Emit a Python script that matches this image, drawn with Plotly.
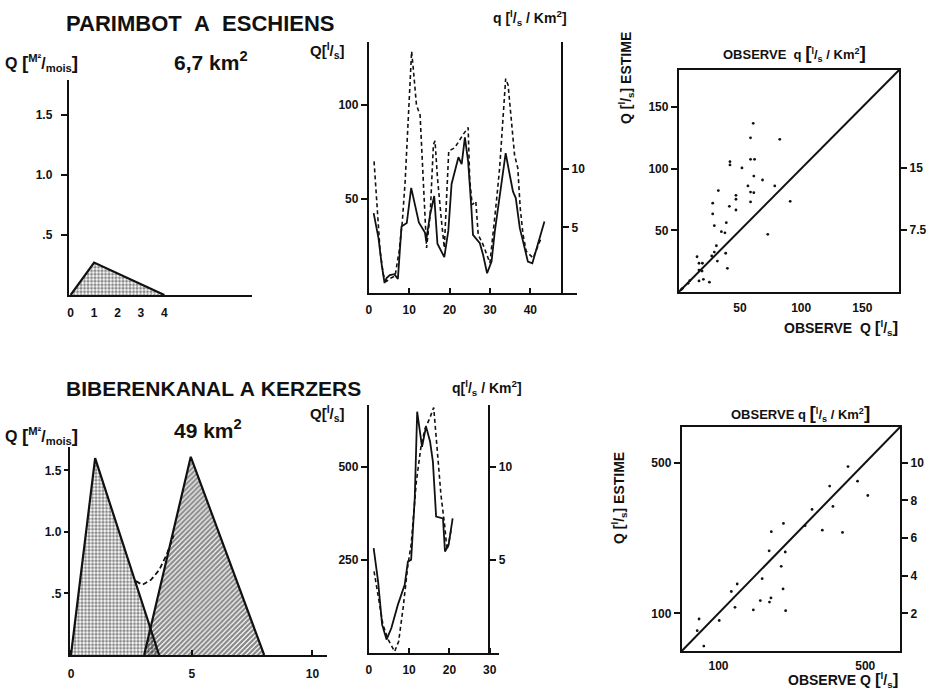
import plotly.graph_objects as go

W, H = 929, 694

# ---------------- data ----------------
# Parimbot à Eschiens (6,7 km²)
par_tri_x = [0, 1, 4]
par_tri_y = [0, 0.27, 0]

par_obs_t = [1.2, 2.4, 3.2, 3.9, 4.4, 5.2, 6.3, 7.2, 8.1, 9.4, 10.5, 11.4, 12.4, 13.9, 14.2,
             15.2, 16.2, 17.0, 18.0, 18.7, 19.7, 20.5, 22.2, 23.0, 23.8, 24.6, 25.4, 25.8,
             27.5, 28.3, 29.3, 30.4, 31.2, 32.0, 32.8, 33.9, 34.9, 35.7, 36.4, 37.4, 38.2,
             39.4, 40.5, 41.9, 43.5]
par_obs_Q = [42.5, 29.2, 15, 5.3, 8, 9.5, 10, 7.5, 35.4, 37.2, 55.9, 46.4, 37.5, 32.2, 27.8,
             41.9, 51.6, 26.2, 21.8, 19.1, 33.3, 58, 72.2, 68.6, 82.8, 70, 45.2, 30.9,
             26.5, 20.3, 10.5, 16.7, 32.6, 45, 59.4, 74.4, 62.9, 54, 50.5, 34.5, 27.5,
             16.7, 15.8, 25.6, 38]

par_est_t = [1.3, 2.0, 2.8, 3.6, 4.4, 5.5, 6.5, 7.5, 8.3, 9.0, 9.6, 10.0, 10.6, 11.0, 11.8,
             12.7, 13.3, 13.9, 14.3, 15.2, 16.0, 16.4, 17.0, 18.0, 18.7, 19.3, 19.8, 21.3,
             22.5, 23.4, 24.6, 25.0, 25.6, 26.5, 27.1, 28.3, 30.0, 30.8, 31.6, 32.4, 33.2,
             33.9, 34.5, 35.3, 36.1, 36.9, 37.5, 38.2, 39.0, 40.7, 41.9, 42.7]
par_est_Q = [70, 45.2, 22.1, 9.7, 6.2, 8, 9, 22.1, 38, 59.4, 84.2, 101.8, 128.5, 119.7, 100,
             94.7, 70, 45.2, 24, 41.9, 79, 80.9, 61.4, 38.3, 24, 52.5, 75.5, 77.3,
             81.7, 84.4, 88, 60, 47, 48.8, 31, 25.7, 16, 30.9, 48.6, 66.4, 91.2,
             114, 110.6, 91.2, 73.4, 66.4, 45.2, 31, 22.2, 18.6, 24.8, 29.3]

par_sc_obs = [60.8, 58.6, 82.5, 58.6, 61.9, 41.8, 41.8, 51.6, 61.3, 68.4, 56.5, 78.4, 32.3,
              58.6, 61.3, 46.7, 46.7, 58.6, 91.0, 27.7, 41.3, 46.7, 27.7, 38.8, 29.0, 34.8,
              37.7, 72.7, 30.7, 38.3, 14.9, 26.9, 29.0, 16.5, 19.3, 31.5, 39.7, 16.5, 19.0,
              9.0, 7.6, 20.1, 16.5, 25.0, 2.0, 3.0]
par_sc_est = [136.8, 125.0, 123.8, 107.6, 107.6, 105.7, 103.0, 100.6, 94.0, 90.8, 86.0, 86.0,
              82.2, 81.0, 80.5, 78.4, 75.2, 73.0, 73.5, 72.0, 69.5, 66.5, 63.3, 56.2, 53.8,
              48.9, 48.0, 46.8, 37.5, 31.4, 28.6, 29.2, 32.4, 23.3, 23.3, 25.1, 19.2, 17.8,
              17.0, 9.2, 7.0, 10.3, 9.0, 8.0, 2.0, 3.0]

# Biberenkanal à Kerzers (49 km²)
bib_tri1_x = [0, 1, 3.65]
bib_tri1_y = [0, 1.6, 0]
bib_tri2_x = [3.03, 4.96, 8.0]
bib_tri2_y = [0, 1.61, 0]
bib_link_x = [2.69, 2.96, 3.31, 3.65, 3.95, 4.25]
bib_link_y = [0.60, 0.57, 0.61, 0.69, 0.81, 0.97]

bib_obs_t = [1.2, 2.3, 3.3, 4.4, 5.6, 7.2, 8.9, 9.7, 10.5, 11.4, 12.0, 13.2, 14.2, 15.2,
             15.9, 16.7, 18.4, 18.9, 19.8, 20.8]
bib_obs_Q = [281, 192, 76, 36, 67, 129, 183, 245, 250, 415, 647, 553, 607, 567,
             513, 366, 361, 272, 290, 361]
bib_est_t = [1.3, 2.3, 3.5, 4.8, 6.4, 7.4, 8.5, 9.7, 10.5, 11.8, 13.0, 14.0, 15.1, 16.1,
             16.9, 17.9, 18.8, 19.4, 19.9, 20.5]
bib_est_Q = [219, 155, 76, 36, 4, 31, 120, 236, 290, 460, 558, 603, 629, 658,
             558, 424, 344, 277, 299, 335]

bib_sc_obs = [453, 479, 403, 507, 412, 355, 277, 336, 244, 383, 438, 238, 282, 271, 219,
              151, 135, 276, 214, 243, 239, 145, 195, 283, 47, 102, 42, 60]
bib_sc_est = [490, 451, 438, 413, 384, 376, 339, 333, 317, 321, 315, 266, 263, 225, 192,
              178, 158, 165, 134, 141, 130, 116, 109, 107, 85, 81, 54, 13]

# ---------------- helpers ----------------
FONT = "Liberation Sans"
BLACK = "#111111"


def px(x):
    return x / W


def py(y):
    return 1 - y / H


def dom_x(a, b):
    return [px(a), px(b)]


def dom_y(top, bottom):
    return [py(bottom), py(top)]


tickfont = dict(family=FONT, size=12, color=BLACK, weight="bold")

base_axis = dict(showgrid=False, zeroline=False, showline=True, linecolor=BLACK,
                 linewidth=2, tickfont=tickfont, tickcolor=BLACK, tickwidth=1.5,
                 fixedrange=True)

dots = dict(shape=".", fgcolor=BLACK, bgcolor="rgba(0,0,0,0)", size=3.5, solidity=0.55)
hatch = dict(shape="/", fgcolor=BLACK, bgcolor="rgba(0,0,0,0)", size=3.5, solidity=0.65)

fig = go.Figure()

# ---- panel 1 : Parimbot hydrograph ----
fig.add_trace(go.Scatter(x=par_tri_x, y=par_tri_y, fill="toself", mode="lines",
                         line=dict(color=BLACK, width=2.2), fillpattern=dots,
                         xaxis="x", yaxis="y", showlegend=False, hoverinfo="skip"))

# ---- panel 2 : Parimbot time series ----
fig.add_trace(go.Scatter(x=par_est_t, y=par_est_Q, mode="lines",
                         line=dict(color=BLACK, width=1.6, dash="4px,3px"),
                         xaxis="x2", yaxis="y2", showlegend=False))
fig.add_trace(go.Scatter(x=par_obs_t, y=par_obs_Q, mode="lines",
                         line=dict(color=BLACK, width=1.8),
                         xaxis="x2", yaxis="y2", showlegend=False))
fig.add_trace(go.Scatter(x=[0], y=[0], mode="markers", marker=dict(opacity=0),
                         xaxis="x2", yaxis="y7", showlegend=False, hoverinfo="skip"))

# ---- panel 3 : Parimbot scatter ----
fig.add_trace(go.Scatter(x=[0, 180], y=[0, 180], mode="lines",
                         line=dict(color=BLACK, width=2),
                         xaxis="x3", yaxis="y3", showlegend=False))
fig.add_trace(go.Scatter(x=par_sc_obs, y=par_sc_est, mode="markers",
                         marker=dict(color=BLACK, size=2.8),
                         xaxis="x3", yaxis="y3", showlegend=False))
fig.add_trace(go.Scatter(x=[0], y=[0], mode="markers", marker=dict(opacity=0),
                         xaxis="x3", yaxis="y8", showlegend=False, hoverinfo="skip"))

# ---- panel 4 : Biberenkanal hydrographs ----
fig.add_trace(go.Scatter(x=bib_tri1_x, y=bib_tri1_y, fill="toself", mode="lines",
                         line=dict(color=BLACK, width=2.2), fillpattern=dots,
                         xaxis="x4", yaxis="y4", showlegend=False, hoverinfo="skip"))
fig.add_trace(go.Scatter(x=bib_tri2_x, y=bib_tri2_y, fill="toself", mode="lines",
                         line=dict(color=BLACK, width=2.2), fillpattern=hatch,
                         xaxis="x4", yaxis="y4", showlegend=False, hoverinfo="skip"))
fig.add_trace(go.Scatter(x=bib_link_x, y=bib_link_y, mode="lines",
                         line=dict(color=BLACK, width=1.8, dash="5px,3px"),
                         xaxis="x4", yaxis="y4", showlegend=False))

# ---- panel 5 : Biberenkanal time series ----
fig.add_trace(go.Scatter(x=bib_est_t, y=bib_est_Q, mode="lines",
                         line=dict(color=BLACK, width=1.6, dash="4px,3px"),
                         xaxis="x5", yaxis="y5", showlegend=False))
fig.add_trace(go.Scatter(x=bib_obs_t, y=bib_obs_Q, mode="lines",
                         line=dict(color=BLACK, width=1.8),
                         xaxis="x5", yaxis="y5", showlegend=False))
fig.add_trace(go.Scatter(x=[0], y=[0], mode="markers", marker=dict(opacity=0),
                         xaxis="x5", yaxis="y9", showlegend=False, hoverinfo="skip"))

# ---- panel 6 : Biberenkanal scatter ----
fig.add_trace(go.Scatter(x=[0, 595], y=[0, 595], mode="lines",
                         line=dict(color=BLACK, width=2),
                         xaxis="x6", yaxis="y6", showlegend=False))
fig.add_trace(go.Scatter(x=bib_sc_obs, y=bib_sc_est, mode="markers",
                         marker=dict(color=BLACK, size=2.8),
                         xaxis="x6", yaxis="y6", showlegend=False))
fig.add_trace(go.Scatter(x=[0], y=[0], mode="markers", marker=dict(opacity=0),
                         xaxis="x6", yaxis="y10", showlegend=False, hoverinfo="skip"))

layout = dict(
    width=W, height=H, margin=dict(l=0, r=0, t=0, b=0),
    paper_bgcolor="white", plot_bgcolor="rgba(0,0,0,0)",
    showlegend=False,
    font=dict(family=FONT, color=BLACK),
)

# panel 1 axes
layout["xaxis"] = dict(base_axis, domain=dom_x(66, 250), range=[-0.08, 7.75], anchor="y",
                       tickvals=[0, 1, 2, 3, 4], ticks="", ticklabelstandoff=6)
layout["yaxis"] = dict(base_axis, domain=dom_y(80, 295), range=[0, 1.79], anchor="x",
                       tickvals=[0.5, 1.0, 1.5], ticktext=[".5", "1.0", "1.5"],
                       ticks="outside", ticklen=6, ticklabelstandoff=6)

# panel 2 axes
layout["xaxis2"] = dict(base_axis, domain=dom_x(367, 576), range=[0, 51.6], anchor="y2",
                        tickvals=[0, 10, 20, 30, 40], ticks="inside", ticklen=5,
                        ticklabelstandoff=5)
layout["yaxis2"] = dict(base_axis, domain=dom_y(42, 293), range=[0, 133.5], anchor="x2",
                        tickvals=[50, 100], ticks="outside", ticklen=6)
layout["yaxis7"] = dict(base_axis, domain=dom_y(42, 293), range=[-0.6, 20.8],
                        overlaying="y2", anchor="free", position=px(561), side="right",
                        tickvals=[5, 10], ticks="outside", ticklen=6)

# panel 3 axes
layout["xaxis3"] = dict(base_axis, domain=dom_x(678, 899), range=[0, 180], anchor="y3",
                        mirror=True, tickvals=[50, 100, 150], ticks="", ticklabelstandoff=4)
layout["yaxis3"] = dict(base_axis, domain=dom_y(70, 292), range=[0, 180], anchor="x3",
                        mirror=True, tickvals=[50, 100, 150], ticks="outside", ticklen=6)
layout["yaxis8"] = dict(base_axis, domain=dom_y(70, 292), range=[0, 180 / 6.7],
                        overlaying="y3", anchor="x3", side="right",
                        tickvals=[7.5, 15], ticktext=["7.5", "15"],
                        ticks="outside", ticklen=6)

# panel 4 axes
layout["xaxis4"] = dict(base_axis, domain=dom_x(67, 325), range=[-0.05, 10.6], anchor="y4",
                        tickvals=[0, 5, 10], ticks="inside", ticklen=5, ticklabelstandoff=7)
layout["yaxis4"] = dict(base_axis, domain=dom_y(447, 655), range=[0, 1.69], anchor="x4",
                        tickvals=[0.5, 1.0, 1.5], ticktext=[".5", "1.0", "1.5"],
                        ticks="outside", ticklen=4)

# panel 5 axes
layout["xaxis5"] = dict(base_axis, domain=dom_x(367, 498), range=[0, 32.4], anchor="y5",
                        tickvals=[0, 10, 20, 30], ticks="inside", ticklen=5,
                        ticklabelstandoff=5)
layout["yaxis5"] = dict(base_axis, domain=dom_y(405, 653), range=[0, 665], anchor="x5",
                        tickvals=[250, 500], ticks="outside", ticklen=6)
layout["yaxis9"] = dict(base_axis, domain=dom_y(405, 653), range=[0, 665 / 50],
                        overlaying="y5", anchor="free", position=px(488), side="right",
                        tickvals=[5, 10], ticks="outside", ticklen=6)

# panel 6 axes
layout["xaxis6"] = dict(base_axis, domain=dom_x(681, 900), range=[0, 595], anchor="y6",
                        mirror=True, tickvals=[100, 500], ticks="", ticklabelstandoff=3)
layout["yaxis6"] = dict(base_axis, domain=dom_y(427, 651), range=[0, 595], anchor="x6",
                        mirror=True, tickvals=[100, 500], ticks="outside", ticklen=6)
layout["yaxis10"] = dict(base_axis, domain=dom_y(427, 651), range=[0, 595 / 50],
                         overlaying="y6", anchor="x6", side="right",
                         tickvals=[2, 4, 6, 8, 10], ticks="outside", ticklen=6)

fig.update_layout(**layout)

NB = "\u00a0"
LS = "<sup>l</sup>/<sub>s</sub>"


def big(ch, size):
    return f'<span style="font-size:{size}px">{ch}</span>'


def label(text, x, y, size, xanchor="left", angle=0):
    fig.add_annotation(text=text, x=px(x), y=py(y), xref="paper", yref="paper",
                       xanchor=xanchor, yanchor="middle", showarrow=False,
                       textangle=angle,
                       font=dict(family=FONT, size=size, color=BLACK, weight="bold"))


MMOIS = f"Q {big('[', 19)}<sup>M²</sup>/<sub>mois</sub>{big(']', 19)}"
OBS_q = f"{big('[', 19)}{LS} / Km<sup>2</sup>{big(']', 19)}"
OBS_Q = f"{big('[', 17)}{LS}{big(']', 17)}"

# headings and axis titles
label(f"PARIMBOT{NB}{NB}A{NB}{NB}ESCHIENS", 61, 23, 22)
label(MMOIS, 0, 63, 16)
label("6,7 km<sup>2</sup>", 170, 61, 21)
label(f"Q[{LS}]", 306, 51, 15)
label(f"q [{LS} / Km<sup>2</sup>]", 490, 18, 14)
label(f"OBSERVE{NB}{NB}q {OBS_q}", 720, 53, 13)
label(f"OBSERVE{NB}{NB}Q {OBS_Q}", 900, 328, 14, xanchor="right")
label(f"Q [{LS}] ESTIME", 625, 78, 14, xanchor="center", angle=-90)

label(f"BIBERENKANAL{NB}A{NB}KERZERS", 61, 389, 21)
label(MMOIS, 0, 436, 16)
label("49 km<sup>2</sup>", 170, 429, 21)
label(f"Q[{LS}]", 306, 413, 15)
label(f"q[{LS} / Km<sup>2</sup>]", 448, 388, 14)
label(f"OBSERVE{NB}q {OBS_q}", 728, 413, 13)
label(f"OBSERVE Q {OBS_Q}", 900, 680, 14, xanchor="right")
label(f"Q [{LS}] ESTIME", 618, 498, 14, xanchor="center", angle=-90)

fig.write_html("out.html")
